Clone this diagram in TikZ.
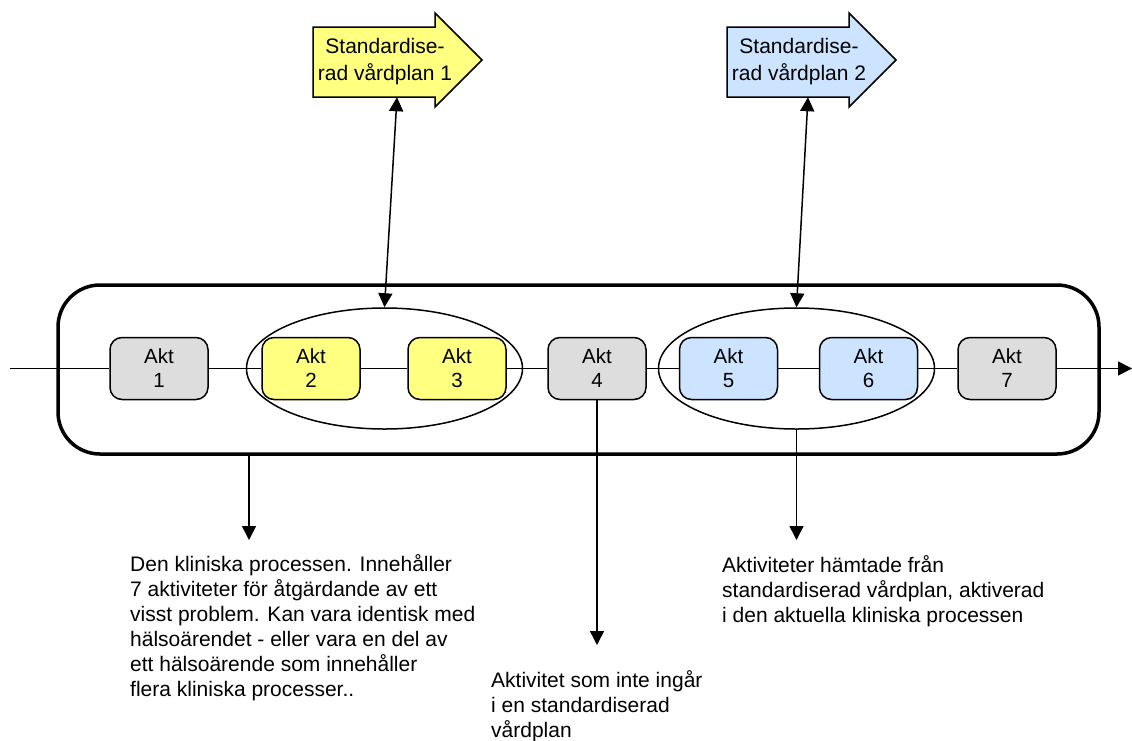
\documentclass[tikz,border=0pt]{standalone}
\usepackage{fontspec}
\setmainfont{Liberation Sans}
\usetikzlibrary{shapes.geometric,arrows.meta}

\definecolor{planyellow}{RGB}{255,255,128}
\definecolor{planblue}{RGB}{204,228,255}
\definecolor{aktgray}{RGB}{221,221,221}

\begin{document}
\begin{tikzpicture}[x=1pt, y=-1pt, line join=miter,
		akt_style/.style={rectangle,rounded corners=12pt,draw=black,line width=1.5pt,minimum width=98pt,minimum height=62pt,align=center,inner sep=0pt,font=\fontsize{20.5}{24}\selectfont},
		group_style/.style={ellipse,draw=black,line width=1.5pt,minimum width=276pt,minimum height=121pt,inner sep=0pt},
		proc_style/.style={rectangle,rounded corners=42pt,draw=black,line width=3.5pt,minimum width=1041pt,minimum height=169pt,inner sep=0pt},
		plan_style/.style={minimum height=70pt,align=center,inner sep=0pt,font=\fontsize{21}{27}\selectfont},
		note_style/.style={anchor=north west,align=left,inner sep=0pt,font=\fontsize{21}{25}\selectfont},
		edge_style/.style={draw=black,line width=1.5pt},
		arrow_style/.style={edge_style,-{Triangle[length=14pt,width=14pt]}},
		both_style/.style={edge_style,{Triangle[length=14pt,width=14pt]}-{Triangle[length=14pt,width=14pt]}}]
		
		\useasboundingbox (0,0) rectangle (1132,740);
		
		% standardiserade vårdplaner
		\filldraw[fill=planyellow,line width=1.5pt] (313,27) -- (435,27) -- (435,13) -- (482,60) -- (435,107) -- (435,97) -- (313,97) -- cycle;
		\filldraw[fill=planblue,line width=1.5pt] (727,27) -- (849,27) -- (849,13) -- (896,60) -- (849,107) -- (849,97) -- (727,97) -- cycle;
		\node[plan_style] (plan1) at (385,62) {Standardise-\\rad vårdplan 1};
		\node[plan_style] (plan2) at (799,62) {Standardise-\\rad vårdplan 2};
		
		% kliniska processen
		\node[proc_style] (proc) at (578.5,369.5) {};
		\node[group_style] (grp1) at (384.5,368.5) {};
		\node[group_style] (grp2) at (796.5,368.5) {};
		
		\node[akt_style,fill=aktgray] (akt1) at (159,368.5) {Akt\\1};
		\node[akt_style,fill=planyellow] (akt2) at (311,368.5) {Akt\\2};
		\node[akt_style,fill=planyellow] (akt3) at (457,368.5) {Akt\\3};
		\node[akt_style,fill=aktgray] (akt4) at (597,368.5) {Akt\\4};
		\node[akt_style,fill=planblue] (akt5) at (728.5,368.5) {Akt\\5};
		\node[akt_style,fill=planblue] (akt6) at (868.5,368.5) {Akt\\6};
		\node[akt_style,fill=aktgray] (akt7) at (1007,368.5) {Akt\\7};
		
		\coordinate (in) at (10,368.5);
		\coordinate (out) at (1132,368.5);
		\coordinate (down1) at (249,540);
		\coordinate (down2) at (597,645);
		\coordinate (down3) at (796.5,540);
		
		% texter
		\node[note_style] (note1) at (130,554) {Den kliniska processen. Innehåller\\7 aktiviteter för åtgärdande av ett\\visst problem. Kan vara identisk med\\hälsoärendet - eller vara en del av\\ett hälsoärende som innehåller\\flera kliniska processer..};
		\node[note_style] (note2) at (491,670) {Aktivitet som inte ingår\\i en standardiserad\\vårdplan};
		\node[note_style] (note3) at (722,555) {Aktiviteter hämtade från\\standardiserad vårdplan, aktiverad\\i den aktuella kliniska processen};
		
		\draw[arrow_style] (in) -- (akt1) -- (akt2) -- (akt3) -- (akt4) -- (akt5) -- (akt6) -- (akt7) -- (out);
		\draw[both_style] ([xshift=12pt]plan1.south) -- (grp1.north);
		\draw[both_style] ([xshift=9pt]plan2.south) -- (grp2.north);
		\draw[arrow_style] (proc.south -| down1) -- (down1);
		\draw[arrow_style] (akt4) -- (down2);
		\draw[arrow_style] (grp2) -- (down3);
		
\end{tikzpicture}
\end{document}
